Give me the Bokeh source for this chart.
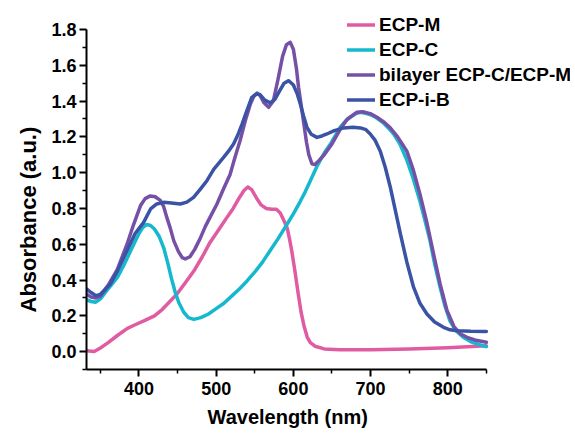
from bokeh.plotting import figure
from bokeh.models import Range1d, Legend, LegendItem, FixedTicker, CustomJSTickFormatter, Title
from bokeh.embed import file_html
from bokeh.resources import INLINE

# ---- data ----
wl_m = [332, 342, 350, 360, 372, 385, 395, 407, 420, 430, 440, 449, 460, 471, 482, 492,
        503, 514, 522, 530, 536, 541, 546, 552, 558, 565, 572, 578, 583, 588, 592, 595,
        598, 602, 606, 610, 614, 618, 622, 628, 640, 660, 700, 750, 800, 850]
ecp_m = [0.005, 0.0, 0.02, 0.05, 0.09, 0.13, 0.15, 0.173, 0.20, 0.235, 0.28, 0.32, 0.385,
         0.45, 0.53, 0.61, 0.68, 0.75, 0.80, 0.86, 0.90, 0.92, 0.905, 0.86, 0.82, 0.80,
         0.795, 0.795, 0.775, 0.73, 0.69, 0.63, 0.56, 0.45, 0.33, 0.22, 0.14, 0.08, 0.05,
         0.03, 0.015, 0.01, 0.01, 0.015, 0.022, 0.033]

wl_c = [332, 338, 344, 350, 360, 372, 380, 390, 400, 405, 410, 415, 420, 426, 432, 437,
        442, 447, 452, 458, 464, 471, 480, 490, 500, 510, 520, 530, 540, 551, 560, 570,
        580, 592, 600, 609, 615, 622, 630, 640, 648, 656, 661, 668, 674, 681, 687, 695,
        702, 708, 716, 723, 730, 738, 747, 755, 764, 770, 777, 783, 790, 796, 803, 810,
        820, 830, 840, 850]
ecp_c = [0.29, 0.28, 0.276, 0.295, 0.35, 0.415, 0.48, 0.57, 0.66, 0.695, 0.71, 0.705,
         0.685, 0.645, 0.58, 0.50, 0.41, 0.33, 0.27, 0.22, 0.19, 0.18, 0.19, 0.21, 0.24,
         0.27, 0.31, 0.35, 0.395, 0.45, 0.50, 0.565, 0.63, 0.713, 0.77, 0.84, 0.89, 0.955,
         1.03, 1.11, 1.16, 1.22, 1.255, 1.29, 1.31, 1.33, 1.337, 1.33, 1.32, 1.305, 1.28,
         1.25, 1.216, 1.16, 1.07, 0.97, 0.84, 0.74, 0.62, 0.49, 0.36, 0.26, 0.17, 0.12,
         0.08, 0.055, 0.04, 0.028]

wl_b = [332, 338, 344, 350, 360, 372, 384.5, 393, 402, 408, 414.6, 421, 427.6, 432, 436,
        440.5, 445, 451, 456, 460, 466, 472, 479, 486, 492, 501, 509.6, 518, 524, 531,
        537.7, 544, 549, 553, 557, 562, 568, 574, 580, 586, 591, 596, 600, 604, 606.7,
        610, 613, 617, 620, 624, 628, 633, 640, 650, 661, 670, 682, 690, 699.6, 710, 718,
        725.5, 735, 741, 747, 755, 764, 773, 781.6, 790, 799, 808, 816, 825, 835, 850]
bilayer = [0.32, 0.305, 0.30, 0.31, 0.37, 0.46, 0.60, 0.71, 0.816, 0.855, 0.87, 0.865,
           0.845, 0.81, 0.75, 0.69, 0.62, 0.56, 0.525, 0.518, 0.53, 0.57, 0.63, 0.70, 0.75,
           0.825, 0.91, 0.99, 1.08, 1.18, 1.29, 1.38, 1.43, 1.445, 1.43, 1.39, 1.365, 1.40,
           1.52, 1.65, 1.715, 1.728, 1.69, 1.58, 1.477, 1.38, 1.29, 1.17, 1.10, 1.05, 1.045,
           1.067, 1.10, 1.16, 1.245, 1.30, 1.337, 1.34, 1.33, 1.305, 1.28, 1.25, 1.20, 1.16,
           1.12, 1.02, 0.88, 0.72, 0.546, 0.38, 0.23, 0.14, 0.10, 0.08, 0.065, 0.052]

wl_i = [332, 338, 344, 350, 363, 372, 384.5, 395, 406, 415, 423, 432, 442, 453.5, 462,
        470.7, 479, 488, 497, 509.6, 516, 522.5, 528, 533.4, 540, 546, 553, 557, 563, 570,
        576, 582, 588, 594, 600, 605, 609, 613, 617.6, 623, 630.6, 637, 643.5, 653, 665,
        677, 687, 694, 699.6, 706, 712.6, 719, 725.5, 732, 738.5, 747, 755.7, 764, 773,
        783, 794.6, 803, 812, 830, 850]
ecp_ib = [0.35, 0.33, 0.313, 0.32, 0.378, 0.45, 0.564, 0.66, 0.722, 0.797, 0.825, 0.834,
          0.83, 0.825, 0.835, 0.862, 0.905, 0.955, 1.02, 1.085, 1.12, 1.16, 1.21, 1.27,
          1.35, 1.42, 1.44, 1.435, 1.405, 1.39, 1.41, 1.455, 1.50, 1.514, 1.49, 1.44,
          1.384, 1.32, 1.253, 1.215, 1.197, 1.205, 1.216, 1.235, 1.25, 1.253, 1.25, 1.24,
          1.216, 1.18, 1.12, 1.03, 0.92, 0.79, 0.66, 0.50, 0.36, 0.27, 0.21, 0.165, 0.136,
          0.122, 0.117, 0.114, 0.113]

labels = ["ECP-M", "ECP-C", "bilayer ECP-C/ECP-M", "ECP-i-B"]
colors = ["#E15BA2", "#16B8CE", "#7650A6", "#3A53A4"]

x_ticks = [400, 500, 600, 700, 800]
x_minor = [350, 450, 550, 650, 750, 850]
y_ticks = [0.0, 0.2, 0.4, 0.6, 0.8, 1.0, 1.2, 1.4, 1.6, 1.8]
y_minor = [-0.1, 0.1, 0.3, 0.5, 0.7, 0.9, 1.1, 1.3, 1.5, 1.7]
x_axis_span = (332, 850)
y_axis_span = (-0.1, 1.8)
x_title = "Wavelength (nm)"
y_title = "Absorbance (a.u.)"

FONT = "Liberation Sans"

# frame is widened past the axes so the legend (which sits partly outside the axes) is not clipped
p = figure(width=575, height=435, output_backend="svg", toolbar_location=None,
           x_range=Range1d(332, 959), y_range=Range1d(-0.1, 1.934),
           min_border_left=86, min_border_right=5, min_border_top=5, min_border_bottom=66)
p.outline_line_color = None
p.xgrid.visible = False
p.ygrid.visible = False
p.background_fill_color = "white"
p.border_fill_color = "white"

series = [(wl_m, ecp_m), (wl_c, ecp_c), (wl_b, bilayer), (wl_i, ecp_ib)]
renderers = []
for (xs, ys), c in zip(series, colors):
    r = p.line(xs, ys, line_color=c, line_width=3.5, line_join="round", line_cap="round")
    renderers.append(r)

for ax in (p.xaxis[0], p.yaxis[0]):
    ax.axis_line_width = 2
    ax.axis_line_color = "black"
    ax.major_tick_line_width = 2
    ax.minor_tick_line_width = 1.5
    ax.major_tick_out = 7
    ax.major_tick_in = 0
    ax.minor_tick_out = 4
    ax.minor_tick_in = 0
    ax.major_label_text_font = FONT
    ax.major_label_text_font_style = "bold"
    ax.major_label_text_font_size = "18px"
    ax.major_label_text_color = "black"

p.xaxis.ticker = FixedTicker(ticks=x_ticks, minor_ticks=x_minor)
p.yaxis.ticker = FixedTicker(ticks=y_ticks, minor_ticks=y_minor)
p.xaxis.bounds = x_axis_span
p.yaxis.bounds = y_axis_span
p.yaxis.formatter = CustomJSTickFormatter(code="return tick.toFixed(1)")
p.xaxis.major_label_standoff = 5
p.yaxis.major_label_standoff = 3

# axis titles, offset so they sit under/beside the axes' own spans rather than the widened frame
xt = Title(text=x_title, align="left", offset=121, standoff=13,
           text_font=FONT, text_font_style="bold", text_font_size="20px", text_color="black")
yt = Title(text=y_title, align="left", offset=57, standoff=15,
           text_font=FONT, text_font_style="bold", text_font_size="22px", text_color="black")
p.add_layout(xt, "below")
p.add_layout(yt, "left")

legend = Legend(items=[LegendItem(label=l, renderers=[r]) for l, r in zip(labels, renderers)],
                location=(261, 257), padding=0, spacing=0, margin=0,
                label_height=25, glyph_height=25, glyph_width=28, label_standoff=4,
                border_line_color=None, background_fill_alpha=0,
                label_text_font=FONT, label_text_font_style="bold",
                label_text_font_size="19px", label_text_color="black")
p.add_layout(legend)

open("out.html", "w").write(file_html(p, INLINE))
